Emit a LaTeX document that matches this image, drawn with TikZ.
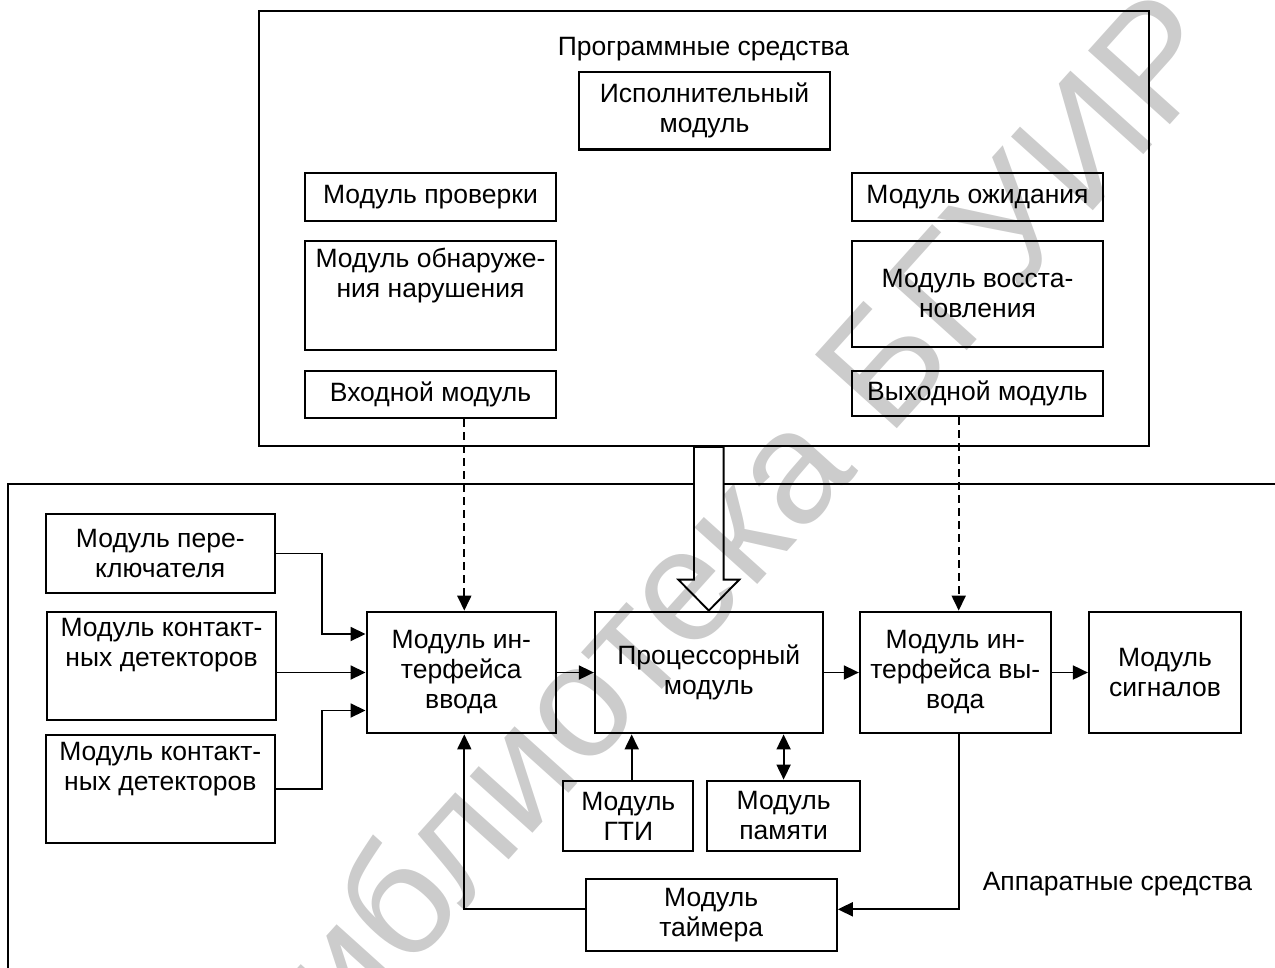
\documentclass[tikz,border=0pt]{standalone}
\usepackage{fontspec}
\setmainfont{Liberation Sans}
\usetikzlibrary{arrows.meta,calc}
\newcommand\txtsz{\fontsize{26.5}{30}\selectfont}
\begin{document}
\begin{tikzpicture}[x=1pt,y=-1pt,
  blk/.style={draw, line width=2.2pt, align=center, inner sep=0pt, font=\txtsz},
  frame/.style={draw, line width=1.9pt, inner sep=0pt},
  lbl/.style={align=center, inner sep=0pt, font=\txtsz},
  conn/.style={line width=1.8pt},
  arr/.style={conn, -{Triangle[length=15pt,width=14pt]}},
  darr/.style={conn, {Triangle[length=15pt,width=14pt]}-{Triangle[length=15pt,width=14pt]}},
  dsh/.style={arr, dash pattern=on 8pt off 5pt},
  hollow/.style={line width=1.9pt, line join=miter, fill=white}
]
\fill[white] (0,0) rectangle (1275,967);
\useasboundingbox (0,0) rectangle (1275,967);

% software part
\node[frame, minimum width=889.4pt, minimum height=435pt] (soft) at (704,228.5) {};
\node[lbl, anchor=base] (softlbl) at (703.5,55) {Программные средства};
\node[blk, minimum width=251pt, minimum height=77.8pt] (isp) at (704.5,110.6) {Исполнительный\\модуль};
\node[blk, minimum width=251pt, minimum height=48pt] (prov) at (430.5,196.7) {Модуль проверки};
\node[blk, minimum width=251pt, minimum height=109pt] (obn) at (430.5,295.5) {};
\node[lbl, anchor=north] (obnt) at ([yshift=-8pt]obn.north) {Модуль обнаруже-\\ния нарушения};
\node[blk, minimum width=251pt, minimum height=47.6pt] (vhod) at (430.5,394.5) {Входной модуль};
\node[blk, minimum width=251pt, minimum height=48pt] (ozh) at (977.5,196.7) {Модуль ожидания};
\node[blk, minimum width=251pt, minimum height=105.7pt] (vost) at (977.5,293.8) {Модуль восста-\\новления};
\node[blk, minimum width=251pt, minimum height=45.3pt] (vyh) at (977.5,393.4) {Выходной модуль};

% hardware part
\node[frame, minimum width=1291.7pt, minimum height=515.7pt] (hard) at (654.15,742.15) {};
\node[lbl, anchor=base] (hardlbl) at (1117.5,890.7) {Аппаратные средства};
\node[blk, minimum width=228.7pt, minimum height=78.4pt] (pere) at (160.3,553.5) {Модуль пере-\\ключателя};
\node[blk, minimum width=228.7pt, minimum height=108.3pt] (kont1) at (161.6,665.8) {};
\node[lbl, anchor=north] (kont1t) at ([yshift=-8pt]kont1.north) {Модуль контакт-\\ных детекторов};
\node[blk, minimum width=228.7pt, minimum height=108.3pt] (kont2) at (160.3,789.2) {};
\node[lbl, anchor=north] (kont2t) at ([yshift=-8pt]kont2.north) {Модуль контакт-\\ных детекторов};
\node[blk, minimum width=189.3pt, minimum height=121.6pt] (ivv) at (461.3,672.5) {Модуль ин-\\терфейса\\ввода};
\node[blk, minimum width=227.7pt, minimum height=121.6pt] (proc) at (708.8,672.5) {Процессорный\\модуль};
\node[blk, minimum width=190.7pt, minimum height=121.6pt] (ivyv) at (955.3,672.5) {Модуль ин-\\терфейса вы-\\вода};
\node[blk, minimum width=152pt, minimum height=121.6pt] (sig) at (1165,672.5) {Модуль\\сигналов};
\node[blk, minimum width=130pt, minimum height=70.6pt] (gti) at (628.3,816) {Модуль\\ГТИ};
\node[blk, minimum width=152.7pt, minimum height=70.6pt] (pam) at (783.6,816) {Модуль\\памяти};
\node[blk, minimum width=251pt, minimum height=71.4pt] (tim) at (711.2,915) {Модуль\\таймера};

% wide hollow arrow from software to processor
\coordinate (hs) at (soft.south -| proc.north);
\filldraw[hollow] ($(hs)+(-14.8,0)$) -- ($(proc.north)+(-14.8,-31)$) -- ($(proc.north)+(-30.5,-31)$)
  -- (proc.north) -- ($(proc.north)+(30.5,-31)$) -- ($(proc.north)+(14.8,-31)$) -- ($(hs)+(14.8,0)$) -- cycle;

% connectors
\draw[dsh] ([xshift=3pt]ivv.north |- vhod.south) -- ([xshift=3pt]ivv.north);
\draw[dsh] ([xshift=3.4pt]ivyv.north |- vyh.south) -- ([xshift=3.4pt]ivyv.north);
\draw[arr] (pere.east) -- ++(46,0) |- ([yshift=38.5pt]ivv.west);
\draw[arr] (kont1.east |- ivv.west) -- (ivv.west);
\draw[arr] (kont2.east) -- ++(46,0) |- ([yshift=-38pt]ivv.west);
\draw[arr] (ivv.east) -- (proc.west);
\draw[arr] (proc.east) -- (ivyv.west);
\draw[arr] (ivyv.east) -- (sig.west);
\draw[arr] ([xshift=3.4pt]gti.north) -- ([xshift=3.4pt]gti.north |- proc.south);
\draw[darr] (pam.north) -- (pam.north |- proc.south);
\draw[arr] ([xshift=3.4pt]ivyv.south) |- ([yshift=5.7pt]tim.east);
\draw[arr] ([yshift=5.7pt]tim.west) -| ([xshift=3pt]ivv.south);

% library stamp across the sheet
\node[font=\fontsize{160}{160}\selectfont, text=black, text opacity=0.2, rotate=48, inner sep=0pt] (wm) at (712,548) {Библиотека БГУИР};
\end{tikzpicture}
\end{document}
